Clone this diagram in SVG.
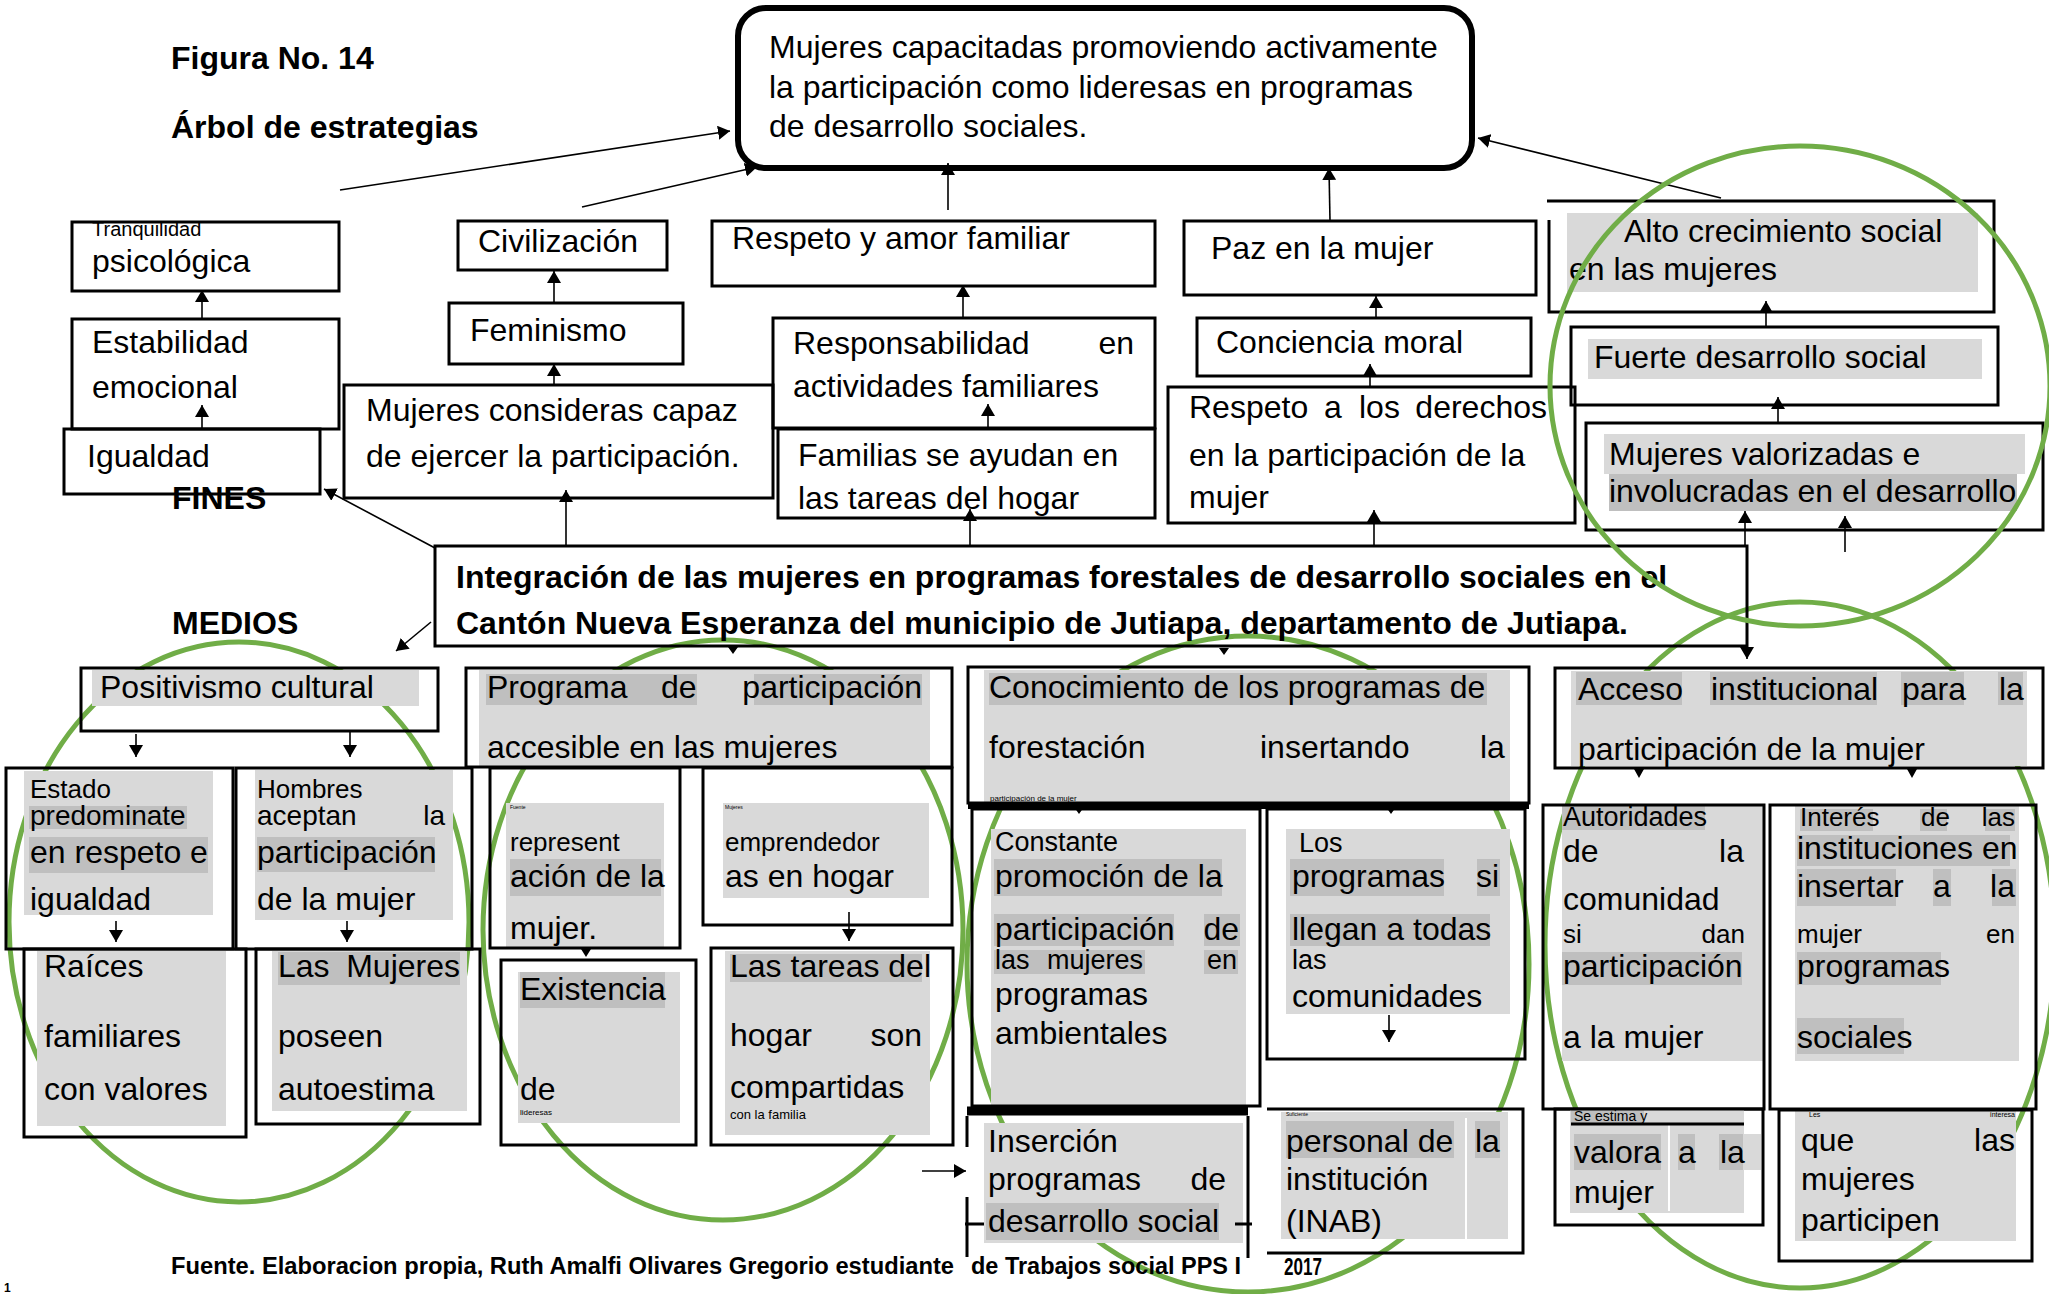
<svg xmlns="http://www.w3.org/2000/svg" width="2049" height="1294" viewBox="0 0 2049 1294">
<defs>
<style>
text{font-family:"Liberation Sans",Arial,sans-serif;fill:#000}
.m{font-size:32px}
.s{font-size:26px}
.bd{font-weight:bold}
.b{fill:none;stroke:#000;stroke-width:3}
.lg{fill:#D9D9D9}
.dg{fill:#BFBFBF}
.gr{fill:none;stroke:#70AD47;stroke-width:5}
.c{fill:none;stroke:#000;stroke-width:1.6;marker-end:url(#ah)}
.ln{fill:none;stroke:#000;stroke-width:3}
.e{text-anchor:end}
</style>
<marker id="ah" viewBox="0 0 12 14" refX="12" refY="7" markerWidth="12" markerHeight="14" markerUnits="userSpaceOnUse" orient="auto"><path d="M0,0 L12,7 L0,14 z" fill="#000"/></marker>
</defs>
<rect width="2049" height="1294" fill="#fff"/>

<g id="groups-lower">
<ellipse class="gr" cx="239" cy="922" rx="230" ry="280"/>
<ellipse class="gr" cx="723" cy="930" rx="240" ry="290"/>
<ellipse class="gr" cx="1248" cy="964" rx="281" ry="328"/>
<ellipse class="gr" cx="1800" cy="945" rx="255" ry="343"/>
</g>

<g id="titles">
<text class="m bd" x="171" y="69">Figura No. 14</text>
<text class="m bd" x="171" y="138">Árbol de estrategias</text>
<text class="m bd" x="172" y="509">FINES</text>
<text class="m bd" x="172" y="634">MEDIOS</text>
<text class="bd" style="font-size:23px" x="171" y="1274" textLength="783" lengthAdjust="spacingAndGlyphs">Fuente. Elaboracion propia, Ruth Amalfi Olivares Gregorio estudiante</text>
<text class="bd" style="font-size:23px" x="971" y="1274" textLength="270" lengthAdjust="spacingAndGlyphs">de Trabajos social PPS I</text>
<text class="bd" style="font-size:23px" x="1284" y="1275" textLength="38" lengthAdjust="spacingAndGlyphs">2017</text>
<text class="bd" style="font-size:12px" x="4" y="1292">1</text>
</g>

<g id="goal">
<rect x="738" y="8" width="734" height="160" rx="28" fill="none" stroke="#000" stroke-width="6"/>
<text class="m" x="769" y="58">Mujeres capacitadas promoviendo activamente</text>
<text class="m" x="769" y="98">la participación como lideresas en programas</text>
<text class="m" x="769" y="137">de desarrollo sociales.</text>
</g>

<g id="n-tranquilidad">
<text style="font-size:20px" x="92" y="236">Tranquilidad</text>
<text class="m" x="92" y="272">psicológica</text>
<rect class="b" x="72" y="222" width="267" height="69"/>
</g>
<g id="n-estabilidad">
<text class="m" x="92" y="353">Estabilidad</text>
<text class="m" x="92" y="398">emocional</text>
<rect class="b" x="72" y="319" width="267" height="110"/>
</g>
<g id="n-igualdad">
<text class="m" x="87" y="467">Igualdad</text>
<rect class="b" x="64" y="429" width="256" height="65"/>
</g>
<g id="n-civilizacion">
<text class="m" x="478" y="252">Civilización</text>
<rect class="b" x="458" y="221" width="209" height="49"/>
</g>
<g id="n-feminismo">
<text class="m" x="470" y="341">Feminismo</text>
<rect class="b" x="449" y="303" width="234" height="61"/>
</g>
<g id="n-capaz">
<text class="m" x="366" y="421">Mujeres consideras capaz</text>
<text class="m" x="366" y="467">de ejercer la participación.</text>
<rect class="b" x="344" y="385" width="429" height="113"/>
</g>
<g id="n-respeto-amor">
<text class="m" x="732" y="249">Respeto y amor familiar</text>
<rect class="b" x="712" y="221" width="443" height="65"/>
</g>
<g id="n-responsabilidad">
<text class="m" x="793" y="354">Responsabilidad</text>
<text class="m e" x="1134" y="354">en</text>
<text class="m" x="793" y="397">actividades familiares</text>
<rect class="b" x="773" y="318" width="382" height="110"/>
</g>
<g id="n-familias">
<text class="m" x="798" y="466">Familias se ayudan en</text>
<text class="m" x="798" y="509">las tareas del hogar</text>
<rect class="b" x="778" y="429" width="377" height="89"/>
</g>
<g id="n-paz">
<text class="m" x="1211" y="259">Paz en la mujer</text>
<rect class="b" x="1184" y="221" width="352" height="74"/>
</g>
<g id="n-conciencia">
<text class="m" x="1216" y="353">Conciencia moral</text>
<rect class="b" x="1197" y="318" width="334" height="58"/>
</g>
<g id="n-derechos">
<text class="m" x="1189" y="418">Respeto</text>
<text class="m" x="1324" y="418">a</text>
<text class="m" x="1359" y="418">los</text>
<text class="m e" x="1547" y="418">derechos</text>
<text class="m" x="1189" y="466">en la participación de la</text>
<text class="m" x="1189" y="508">mujer</text>
<rect class="b" x="1168" y="387" width="407" height="136"/>
</g>
<g id="n-alto">
<rect class="lg" x="1567" y="213" width="411" height="79"/>
<text class="m" x="1624" y="242">Alto crecimiento social</text>
<text class="m" x="1569" y="280">en las mujeres</text>
<path class="ln" d="M1547,201 H1994 V312 H1549 V220"/>
</g>
<g id="n-fuerte">
<rect class="lg" x="1588" y="339" width="394" height="40"/>
<text class="m" x="1594" y="368">Fuerte desarrollo social</text>
<rect class="b" x="1571" y="327" width="427" height="78"/>
</g>
<g id="n-valorizadas">
<rect class="lg" x="1604" y="434" width="421" height="40"/>
<rect class="dg" x="1609" y="474" width="408" height="37"/>
<text class="m" x="1609" y="465">Mujeres valorizadas e</text>
<text class="m" x="1609" y="502">involucradas en el desarrollo</text>
<rect class="b" x="1586" y="423" width="457" height="107"/>
</g>

<g id="n-problema">
<text class="m bd" x="456" y="588">Integración de las mujeres en programas forestales de desarrollo sociales en el</text>
<text class="m bd" x="456" y="634">Cantón Nueva Esperanza del municipio de Jutiapa, departamento de Jutiapa.</text>
<rect class="b" x="435" y="546" width="1312" height="100"/>
</g>

<g id="n-positivismo">
<rect class="lg" x="92" y="670" width="327" height="36"/>
<text class="m" x="100" y="698">Positivismo cultural</text>
<rect class="b" x="81" y="668" width="357" height="63"/>
</g>
<g id="n-estado">
<rect class="lg" x="24" y="771" width="189" height="144"/>
<rect class="dg" x="29" y="806" width="158" height="23"/>
<rect class="dg" x="29" y="837" width="179" height="36"/>
<text class="s" x="30" y="798">Estado</text>
<text style="font-size:28px" x="30" y="825">predominate</text>
<text class="m" x="30" y="863">en respeto e</text>
<text class="m" x="30" y="910">igualdad</text>
<rect class="b" x="6" y="768" width="227" height="181"/>
</g>
<g id="n-hombres">
<rect class="lg" x="255" y="770" width="198" height="150"/>
<rect class="dg" x="257" y="837" width="178" height="35"/>
<text class="s" x="257" y="798">Hombres</text>
<text style="font-size:28px" x="257" y="825">aceptan</text>
<text class="e" style="font-size:28px" x="445" y="825">la</text>
<text class="m" x="257" y="863">participación</text>
<text class="m" x="257" y="910">de la mujer</text>
<rect class="b" x="236" y="768" width="236" height="181"/>
</g>
<g id="n-raices">
<rect class="lg" x="37" y="951" width="189" height="175"/>
<text class="m" x="44" y="977">Raíces</text>
<text class="m" x="44" y="1047">familiares</text>
<text class="m" x="44" y="1100">con valores</text>
<rect class="b" x="24" y="949" width="222" height="188"/>
</g>
<g id="n-autoestima">
<rect class="lg" x="272" y="951" width="195" height="160"/>
<rect class="dg" x="278" y="952" width="182" height="33"/>
<text class="m" x="278" y="977">Las</text>
<text class="m e" x="460" y="977">Mujeres</text>
<text class="m" x="278" y="1047">poseen</text>
<text class="m" x="278" y="1100">autoestima</text>
<rect class="b" x="256" y="949" width="224" height="175"/>
</g>

<g id="n-programa">
<rect class="lg" x="479" y="670" width="451" height="96"/>
<rect class="dg" x="486" y="674" width="211" height="31"/>
<rect class="dg" x="754" y="674" width="168" height="31"/>
<text class="m" x="487" y="698">Programa</text>
<text class="m" x="661" y="698">de</text>
<text class="m e" x="922" y="698">participación</text>
<text class="m" x="487" y="758">accesible en las mujeres</text>
<rect class="b" x="466" y="668" width="486" height="99"/>
</g>
<g id="n-represent">
<rect class="lg" x="506" y="803" width="158" height="144"/>
<rect class="dg" x="510" y="859" width="151" height="37"/>
<text style="font-size:5px" x="510" y="809">Fuente</text>
<text class="s" x="510" y="851">represent</text>
<text class="m" x="510" y="887">ación de la</text>
<text class="m" x="510" y="939">mujer.</text>
<rect class="b" x="490" y="768" width="190" height="180"/>
</g>
<g id="n-emprendedor">
<rect class="lg" x="723" y="803" width="206" height="95"/>
<text style="font-size:5px" x="725" y="809">Mujeres</text>
<text class="s" x="725" y="851">emprendedor</text>
<text class="m" x="725" y="887">as en hogar</text>
<rect class="b" x="703" y="768" width="249" height="157"/>
</g>
<g id="n-existencia">
<rect class="lg" x="518" y="972" width="162" height="151"/>
<rect class="dg" x="520" y="972" width="145" height="36"/>
<text class="m" x="520" y="1000">Existencia</text>
<text class="m" x="520" y="1100">de</text>
<text style="font-size:8px" x="520" y="1115">lideresas</text>
<rect class="b" x="501" y="960" width="195" height="185"/>
</g>
<g id="n-tareas">
<rect class="lg" x="725" y="951" width="205" height="184"/>
<rect class="dg" x="730" y="954" width="192" height="28"/>
<text class="m" x="730" y="977">Las tareas del</text>
<text class="m" x="730" y="1046">hogar</text>
<text class="m e" x="922" y="1046">son</text>
<text class="m" x="730" y="1098">compartidas</text>
<text style="font-size:13px" x="730" y="1119">con la familia</text>
<rect class="b" x="711" y="948" width="242" height="197"/>
</g>

<g id="n-conocimiento">
<rect class="lg" x="984" y="670" width="526" height="133"/>
<rect class="dg" x="989" y="673" width="498" height="32"/>
<text class="m" x="989" y="698">Conocimiento de los programas de</text>
<text class="m" x="989" y="758">forestación</text>
<text class="m" x="1260" y="758">insertando</text>
<text class="m" x="1480" y="758">la</text>
<text style="font-size:8px" x="990" y="801">participación de la mujer</text>
<rect class="b" x="968" y="667" width="561" height="136"/>
<line x1="968" y1="806" x2="1529" y2="806" stroke="#000" stroke-width="6"/>
</g>
<g id="n-constante">
<rect class="lg" x="991" y="829" width="255" height="276"/>
<rect class="dg" x="994" y="859" width="228" height="37"/>
<rect class="dg" x="994" y="914" width="180" height="32"/>
<rect class="dg" x="1204" y="914" width="36" height="32"/>
<rect class="dg" x="994" y="950" width="151" height="24"/>
<rect class="dg" x="1204" y="950" width="34" height="24"/>
<text style="font-size:27px" x="995" y="851">Constante</text>
<text class="m" x="995" y="887">promoción de la</text>
<text class="m" x="995" y="940">participación</text>
<text class="m e" x="1239" y="940">de</text>
<text style="font-size:27px" x="995" y="969">las</text>
<text style="font-size:27px" x="1047" y="969">mujeres</text>
<text class="e" style="font-size:27px" x="1237" y="969">en</text>
<text class="m" x="995" y="1005">programas</text>
<text class="m" x="995" y="1044">ambientales</text>
<rect class="b" x="972" y="809" width="288" height="297"/>
</g>
<g id="n-llegan">
<rect class="lg" x="1286" y="829" width="224" height="185"/>
<rect class="dg" x="1290" y="859" width="154" height="37"/>
<rect class="dg" x="1477" y="859" width="23" height="37"/>
<rect class="dg" x="1290" y="914" width="200" height="32"/>
<text style="font-size:27px" x="1299" y="852">Los</text>
<text class="m" x="1292" y="887">programas</text>
<text class="m e" x="1499" y="887">si</text>
<text class="m" x="1292" y="940">llegan a todas</text>
<text style="font-size:27px" x="1292" y="969">las</text>
<text class="m" x="1292" y="1007">comunidades</text>
<rect class="b" x="1267" y="809" width="258" height="250"/>
</g>
<g id="n-insercion">
<rect class="lg" x="984" y="1123" width="259" height="120"/>
<rect class="dg" x="986" y="1203" width="233" height="37"/>
<text class="m" x="988" y="1152">Inserción</text>
<text class="m" x="988" y="1190">programas</text>
<text class="m e" x="1226" y="1190">de</text>
<text class="m" x="988" y="1232">desarrollo social</text>
<line x1="967" y1="1111" x2="1248" y2="1111" stroke="#000" stroke-width="9"/>
<path class="ln" d="M967,1116 V1147 M967,1197 V1257 M1248,1116 V1258 M965,1224 H984 M1235,1224 H1252"/>
</g>
<g id="n-personal">
<rect class="lg" x="1281" y="1112" width="227" height="127"/>
<rect class="dg" x="1286" y="1121" width="168" height="37"/>
<rect class="dg" x="1475" y="1121" width="25" height="37"/>
<line x1="1466" y1="1118" x2="1466" y2="1240" stroke="#fff" stroke-width="2"/>
<text style="font-size:5px" x="1286" y="1116">Suficiente</text>
<text class="m" x="1286" y="1152">personal de</text>
<text class="m" x="1475" y="1152">la</text>
<text class="m" x="1286" y="1190">institución</text>
<text class="m" x="1286" y="1232">(INAB)</text>
<path class="ln" d="M1267,1109 H1523 V1253 H1267"/>
</g>

<g id="n-acceso">
<rect class="lg" x="1571" y="671" width="456" height="95"/>
<rect class="dg" x="1576" y="672" width="106" height="33"/>
<rect class="dg" x="1710" y="672" width="167" height="33"/>
<rect class="dg" x="1901" y="672" width="63" height="33"/>
<rect class="dg" x="1998" y="672" width="25" height="33"/>
<text class="m" x="1578" y="700">Acceso</text>
<text class="m" x="1711" y="700">institucional</text>
<text class="m" x="1902" y="700">para</text>
<text class="m" x="1999" y="700">la</text>
<text class="m" x="1578" y="760">participación de la mujer</text>
<rect class="b" x="1555" y="668" width="488" height="100"/>
</g>
<g id="n-autoridades">
<rect class="lg" x="1562" y="805" width="201" height="256"/>
<rect class="dg" x="1562" y="806" width="143" height="24"/>
<rect class="dg" x="1562" y="952" width="180" height="33"/>
<text style="font-size:27px" x="1563" y="826">Autoridades</text>
<text class="m" x="1563" y="862">de</text>
<text class="m e" x="1744" y="862">la</text>
<text class="m" x="1563" y="910">comunidad</text>
<text class="s" x="1563" y="943">si</text>
<text class="s e" x="1745" y="943">dan</text>
<text class="m" x="1563" y="977">participación</text>
<text class="m" x="1563" y="1048">a la mujer</text>
<rect class="b" x="1543" y="805" width="221" height="304"/>
</g>
<g id="n-estima">
<rect class="lg" x="1570" y="1110" width="174" height="103"/>
<rect class="lg" x="1744" y="1134" width="17" height="36"/>
<rect class="dg" x="1571" y="1110" width="73" height="13"/>
<rect class="dg" x="1574" y="1134" width="87" height="36"/>
<rect class="dg" x="1678" y="1134" width="17" height="36"/>
<rect class="dg" x="1719" y="1134" width="24" height="36"/>
<line x1="1669" y1="1125" x2="1669" y2="1211" stroke="#fff" stroke-width="2"/>
<line x1="1571" y1="1124" x2="1744" y2="1124" stroke="#000" stroke-width="3"/>
<text style="font-size:14px" x="1574" y="1121">Se estima y</text>
<text class="m" x="1574" y="1163">valora</text>
<text class="m" x="1678" y="1163">a</text>
<text class="m" x="1720" y="1163">la</text>
<text class="m" x="1574" y="1203">mujer</text>
<rect class="b" x="1555" y="1109" width="208" height="116"/>
</g>
<g id="n-interes">
<rect class="lg" x="1795" y="806" width="224" height="255"/>
<rect class="dg" x="1800" y="809" width="73" height="22"/>
<rect class="dg" x="1920" y="809" width="27" height="22"/>
<rect class="dg" x="1985" y="809" width="30" height="22"/>
<rect class="dg" x="1797" y="835" width="213" height="31"/>
<rect class="dg" x="1797" y="869" width="99" height="37"/>
<rect class="dg" x="1933" y="869" width="18" height="37"/>
<rect class="dg" x="1992" y="869" width="24" height="37"/>
<rect class="dg" x="1797" y="952" width="144" height="33"/>
<rect class="dg" x="1797" y="1018" width="107" height="36"/>
<text class="s" x="1800" y="826">Interés</text>
<text class="s" x="1921" y="826">de</text>
<text class="s e" x="2015" y="826">las</text>
<text class="m" x="1797" y="859">instituciones en</text>
<text class="m" x="1797" y="897">insertar</text>
<text class="m" x="1933" y="897">a</text>
<text class="m e" x="2015" y="897">la</text>
<text class="s" x="1797" y="943">mujer</text>
<text class="s e" x="2015" y="943">en</text>
<text class="m" x="1797" y="977">programas</text>
<text class="m" x="1797" y="1048">sociales</text>
<rect class="b" x="1770" y="805" width="266" height="304"/>
</g>
<g id="n-interesa">
<rect class="lg" x="1795" y="1110" width="221" height="131"/>
<text style="font-size:7px" x="1809" y="1117">Les</text>
<text class="e" style="font-size:7px" x="2015" y="1117">interesa</text>
<text class="m" x="1801" y="1151">que</text>
<text class="m e" x="2015" y="1151">las</text>
<text class="m" x="1801" y="1190">mujeres</text>
<text class="m" x="1801" y="1231">participen</text>
<rect class="b" x="1779" y="1110" width="253" height="151"/>
</g>

<g id="connectors">
<line class="c" x1="340" y1="190" x2="730" y2="131"/>
<line class="c" x1="582" y1="207" x2="757" y2="167"/>
<line class="c" x1="948" y1="210" x2="948" y2="163"/>
<line class="c" x1="1330" y1="221" x2="1329" y2="168"/>
<line class="c" x1="1721" y1="198" x2="1478" y2="138"/>
<line class="c" x1="202" y1="318" x2="202" y2="290"/>
<line class="c" x1="202" y1="429" x2="202" y2="405"/>
<line class="c" x1="554" y1="303" x2="554" y2="271"/>
<line class="c" x1="554" y1="385" x2="554" y2="364"/>
<line class="c" x1="963" y1="318" x2="963" y2="285"/>
<line class="c" x1="988" y1="430" x2="988" y2="404"/>
<line class="c" x1="1376" y1="318" x2="1376" y2="296"/>
<line class="c" x1="1370" y1="387" x2="1370" y2="364"/>
<line class="c" x1="1766" y1="327" x2="1766" y2="301"/>
<line class="c" x1="1778" y1="423" x2="1778" y2="397"/>
<line class="c" x1="566" y1="546" x2="566" y2="490"/>
<line class="c" x1="970" y1="546" x2="970" y2="509"/>
<line class="c" x1="1374" y1="546" x2="1374" y2="510"/>
<line class="c" x1="1745" y1="546" x2="1745" y2="511"/>
<line class="c" x1="1845" y1="552" x2="1845" y2="516"/>
<line class="c" x1="435" y1="548" x2="324" y2="489"/>
<line class="c" x1="431" y1="622" x2="396" y2="651"/>
<line class="c" x1="1747" y1="546" x2="1747" y2="659"/>
<line class="c" x1="136" y1="734" x2="136" y2="757"/>
<line class="c" x1="350" y1="732" x2="350" y2="757"/>
<line class="c" x1="116" y1="921" x2="116" y2="942"/>
<line class="c" x1="347" y1="921" x2="347" y2="942"/>
<line class="c" x1="849" y1="912" x2="849" y2="941"/>
<line class="c" x1="1389" y1="1015" x2="1389" y2="1042"/>
<line class="c" x1="922" y1="1171" x2="966" y2="1171"/>
<path d="M728,647 H738 L733,654 Z M1219,648 H1229 L1224,655 Z M581,949 H591 L586,957 Z M1074,807 H1084 L1079,814 Z M1386,807 H1396 L1391,814 Z M1634,769 H1644 L1639,778 Z M1907,769 H1917 L1912,778 Z" fill="#000"/>
</g>

<g id="group-upper">
<ellipse class="gr" cx="1800" cy="386" rx="250" ry="240"/>
</g>
</svg>
